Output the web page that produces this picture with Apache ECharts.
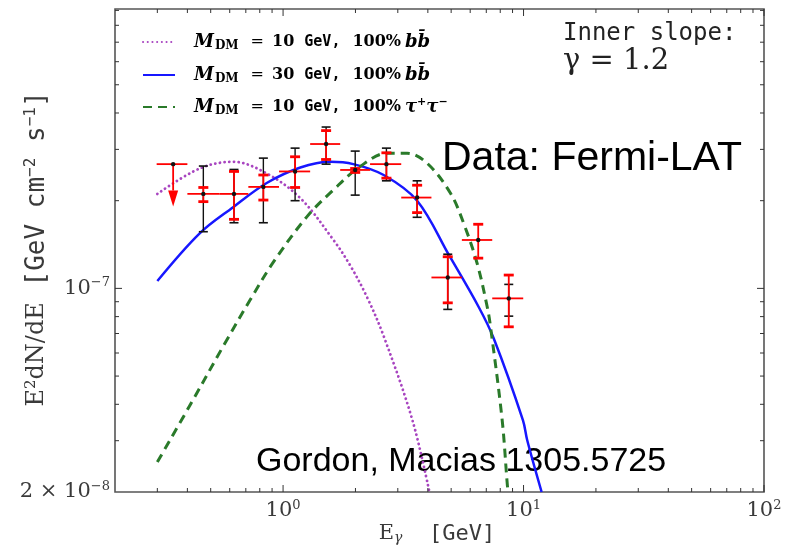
<!DOCTYPE html>
<html><head><meta charset="utf-8">
<script src="https://cdn.jsdelivr.net/npm/echarts@6/dist/echarts.min.js"></script>
<style>html,body{margin:0;padding:0;background:#fff}#c{width:790px;height:551px}</style>
</head><body><div id="c"></div>
<script>
// ---------- axis ranges ----------
const xMin = 0.2, xMax = 100;
const yMin = 2e-8, yMax = 9.1e-7;
const xMajorTicks = [1, 10, 100];
const xMinorTicks = [0.3,0.4,0.5,0.6,0.7,0.8,0.9, 2,3,4,5,6,7,8,9, 20,30,40,50,60,70,80,90];
const yMajorTicks = [1e-7];
const yMinorTicks = [3e-8,4e-8,5e-8,6e-8,7e-8,8e-8,9e-8, 2e-7,3e-7,4e-7,5e-7,6e-7,7e-7,8e-7,9e-7];
const xTickLabels = {1: '0', 10: '1', 100: '2'};          // 10^k
const yTickLabels = [[1e-7, '', '10', '−7'], [2e-8, '2 × ', '10', '−8']];

// ---------- model curves ----------
const seriesNames = ['m10bb', 'm30bb', 'm10tt'];
const m10bbE = [0.30, 0.45, 0.62, 0.855, 1.18, 1.62, 1.90, 2.23, 2.62, 3.45, 4.06];
const m10bbF = [2.11e-7, 2.58e-7, 2.72e-7, 2.48e-7, 2.04e-7, 1.466e-7, 1.20e-7, 0.936e-7, 0.686e-7, 0.353e-7, 2.0e-8];
const m30bbE = [0.30, 0.45, 0.62, 0.855, 1.18, 1.57, 1.96, 2.62, 3.61, 4.9, 6.5, 7.52, 9.94, 10.36, 11.89];
const m30bbF = [1.06e-7, 1.545e-7, 1.90e-7, 2.30e-7, 2.60e-7, 2.72e-7, 2.67e-7, 2.45e-7, 2.0e-7, 1.30e-7, 0.865e-7, 0.673e-7, 0.353e-7, 0.301e-7, 2.0e-8];
const m10ttE = [0.30, 0.41, 0.573, 0.729, 0.911, 1.255, 1.62, 2.09, 2.71, 3.28, 3.97, 4.97, 5.64, 6.41, 7.06, 7.29, 8.15, 8.57, 8.65];
const m10ttF = [0.2535e-7, 0.397e-7, 0.648e-7, 0.912e-7, 1.23e-7, 1.76e-7, 2.18e-7, 2.62e-7, 2.91e-7, 2.91e-7, 2.69e-7, 2.12e-7, 1.67e-7, 1.22e-7, 0.865e-7, 0.738e-7, 0.353e-7, 0.21e-7, 2.0e-8];

// ---------- Fermi-LAT data points ----------
const binE    = [0.349, 0.466, 0.625, 0.828, 1.122, 1.51, 1.995, 2.69, 3.61, 4.84, 6.48, 8.68];
const binLo   = [0.298, 0.40, 0.543, 0.717, 0.962, 1.296, 1.728, 2.30, 3.10, 4.14, 5.54, 7.41];
const binHi   = [0.40, 0.543, 0.717, 0.962, 1.296, 1.728, 2.30, 3.10, 4.14, 5.54, 7.41, 9.97];
const flux    = [2.67e-7, 2.11e-7, 2.11e-7, 2.23e-7, 2.52e-7, 3.13e-7, 2.55e-7, 2.67e-7, 2.05e-7, 1.09e-7, 1.466e-7, 0.924e-7];
const redLo   = [1.91e-7, 1.985e-7, 1.726e-7, 2.01e-7, 2.22e-7, 2.77e-7, 2.50e-7, 2.39e-7, 1.82e-7, 0.892e-7, 1.27e-7, 0.738e-7];
const redHi   = [2.67e-7, 2.22e-7, 2.52e-7, 2.45e-7, 2.83e-7, 3.48e-7, 2.58e-7, 2.92e-7, 2.26e-7, 1.284e-7, 1.66e-7, 1.111e-7];
const blackLo = [0, 1.565e-7, 1.68e-7, 1.68e-7, 2.0e-7, 2.67e-7, 2.09e-7, 2.34e-7, 1.754e-7, 0.847e-7, 0, 0.803e-7];
const blackHi = [0, 2.63e-7, 2.56e-7, 2.80e-7, 3.03e-7, 3.58e-7, 2.96e-7, 3.03e-7, 2.34e-7, 1.31e-7, 0, 1.032e-7];
const upperLimit = [1, 0, 0, 0, 0, 0, 0, 0, 0, 0, 0, 0];

// ---------- build ----------
const zip = (a, b) => a.map((v, i) => [v, b[i]]);
const pointData = binE.map((e, i) => [e, flux[i], binLo[i], binHi[i], redLo[i], redHi[i], blackLo[i], blackHi[i], upperLimit[i]]);
const xTickData = xMajorTicks.map(v => [v, yMin, 1]).concat(xMinorTicks.map(v => [v, yMin, 0]));
const yTickData = yMajorTicks.map(v => [xMin, v, 1]).concat(yMinorTicks.map(v => [xMin, v, 0]));

const serif = 'DejaVu Serif', mono = 'DejaVu Sans Mono';
const legendRich = {
  m:   {fontFamily: serif, fontStyle: 'italic', fontWeight: 'bold', fontSize: 18, color: '#000', lineHeight: 22},
  sub: {fontFamily: serif, fontWeight: 'bold', fontSize: 12, color: '#000', padding: [8, 0, 0, 1], lineHeight: 22},
  eq:  {fontFamily: serif, fontSize: 16, color: '#000', padding: [0, 8, 0, 12], lineHeight: 22},
  num: {fontFamily: serif, fontWeight: 'bold', fontSize: 16, color: '#000', padding: [0, 10, 0, 0], lineHeight: 22},
  mono:{fontFamily: mono, fontWeight: 'bold', fontSize: 15, color: '#000', padding: [0, 12, 0, 0], lineHeight: 22},
  pct: {fontFamily: serif, fontWeight: 'bold', fontSize: 16, color: '#000', padding: [0, 4, 0, 0], lineHeight: 22},
  it:  {fontFamily: serif, fontStyle: 'italic', fontWeight: 'bold', fontSize: 18, color: '#000', lineHeight: 22},
  sup: {fontFamily: serif, fontStyle: 'italic', fontWeight: 'bold', fontSize: 11, color: '#000', padding: [0, 0, 9, 0], lineHeight: 22}
};
const legendText = {
  m10bb: '{m|M}{sub|DM}{eq|=}{num|10}{mono|GeV,}{pct|100%}{it|bb\u0304}',
  m30bb: '{m|M}{sub|DM}{eq|=}{num|30}{mono|GeV,}{pct|100%}{it|bb\u0304}',
  m10tt: '{m|M}{sub|DM}{eq|=}{num|10}{mono|GeV,}{pct|100%}{it|τ}{sup|+}{it|τ}{sup|−}'
};
const legendTop = [27, 60, 92];

function tickRender(isX) {
  return function (params, api) {
    const v0 = api.value(0), v1 = api.value(1), major = api.value(2);
    const len = major ? 7 : 4;
    const style = {stroke: '#333', lineWidth: 1};
    if (isX) {
      const pb = api.coord([v0, yMin]), pt = api.coord([v0, yMax]);
      return {type: 'group', children: [
        {type: 'line', shape: {x1: pb[0], y1: pb[1], x2: pb[0], y2: pb[1] - len}, style},
        {type: 'line', shape: {x1: pt[0], y1: pt[1], x2: pt[0], y2: pt[1] + len}, style}
      ]};
    } else {
      const pl = api.coord([xMin, v1]), pr = api.coord([xMax, v1]);
      return {type: 'group', children: [
        {type: 'line', shape: {x1: pl[0], y1: pl[1], x2: pl[0] + len, y2: pl[1]}, style},
        {type: 'line', shape: {x1: pr[0], y1: pr[1], x2: pr[0] - len, y2: pr[1]}, style}
      ]};
    }
  };
}

function pointRender(params, api) {
  const e = api.value(0), f = api.value(1);
  const lo = api.value(2), hi = api.value(3);
  const rl = api.value(4), rh = api.value(5);
  const bl = api.value(6), bh = api.value(7);
  const ul = api.value(8);
  const c = api.coord([e, f]);
  const L = api.coord([lo, f]), H = api.coord([hi, f]);
  const red = '#ff0000', blk = '#111';
  const ch = [];
  if (bl > 0) {
    const a = api.coord([e, bl]), b = api.coord([e, bh]);
    ch.push({type: 'line', shape: {x1: c[0], y1: a[1], x2: c[0], y2: b[1]}, style: {stroke: blk, lineWidth: 1.4}});
    ch.push({type: 'line', shape: {x1: c[0] - 4.5, y1: a[1], x2: c[0] + 4.5, y2: a[1]}, style: {stroke: blk, lineWidth: 1.6}});
    ch.push({type: 'line', shape: {x1: c[0] - 4.5, y1: b[1], x2: c[0] + 4.5, y2: b[1]}, style: {stroke: blk, lineWidth: 1.6}});
  }
  ch.push({type: 'line', shape: {x1: L[0], y1: c[1], x2: H[0], y2: c[1]}, style: {stroke: red, lineWidth: 1.8}});
  const a = api.coord([e, rl]), b = api.coord([e, rh]);
  if (ul) {
    const headLen = 16;
    ch.push({type: 'line', shape: {x1: c[0], y1: b[1], x2: c[0], y2: a[1] - headLen}, style: {stroke: red, lineWidth: 1.8}});
    ch.push({type: 'polygon', shape: {points: [[c[0] - 5, a[1] - headLen], [c[0] + 5, a[1] - headLen], [c[0], a[1]]]}, style: {fill: red}});
  } else {
    ch.push({type: 'line', shape: {x1: c[0], y1: a[1], x2: c[0], y2: b[1]}, style: {stroke: red, lineWidth: 1.8}});
    ch.push({type: 'line', shape: {x1: c[0] - 5, y1: a[1], x2: c[0] + 5, y2: a[1]}, style: {stroke: red, lineWidth: 2.8}});
    ch.push({type: 'line', shape: {x1: c[0] - 5, y1: b[1], x2: c[0] + 5, y2: b[1]}, style: {stroke: red, lineWidth: 2.8}});
  }
  ch.push({type: 'circle', shape: {cx: c[0], cy: c[1], r: 2.2}, style: {fill: blk}});
  return {type: 'group', children: ch};
}

const chart = echarts.init(document.getElementById('c'), null, {renderer: 'canvas'});
const option = {
  animation: false,
  backgroundColor: '#fff',
  grid: {left: 115, right: 26, top: 9, bottom: 59, show: true, borderColor: '#555', borderWidth: 1.6, backgroundColor: 'transparent'},
  xAxis: {
    type: 'log', logBase: 10, min: xMin, max: xMax,
    axisLine: {show: false}, axisTick: {show: false}, splitLine: {show: false},
    axisLabel: {
      margin: 7, showMinLabel: false,
      formatter: function (v) {
        const k = xTickLabels[Math.round(v)];
        if (k === undefined || Math.abs(v - Math.round(v)) > 1e-6) return '';
        return '{b|10}{s|' + k + '}';
      },
      rich: {
        b: {fontFamily: serif, fontSize: 21, color: '#3a3a3a', lineHeight: 24},
        s: {fontFamily: serif, fontSize: 13, color: '#3a3a3a', padding: [0, 0, 11, 0], lineHeight: 24}
      }
    }
  },
  yAxis: {
    type: 'log', logBase: 10, min: yMin, max: yMax,
    axisLine: {show: false}, axisTick: {show: false}, splitLine: {show: false},
    axisLabel: {
      margin: 5, showMinLabel: true, showMaxLabel: false,
      formatter: function (v) {
        for (const t of yTickLabels) {
          if (Math.abs(v / t[0] - 1) < 1e-3) return '{b|' + t[1] + t[2] + '}{s|' + t[3] + '}';
        }
        return '';
      },
      rich: {
        b: {fontFamily: serif, fontSize: 21, color: '#3a3a3a', lineHeight: 24},
        s: {fontFamily: serif, fontSize: 13, color: '#3a3a3a', padding: [0, 0, 11, 0], lineHeight: 24}
      }
    }
  },
  legend: seriesNames.map((n, i) => ({
    data: [n], left: 137, top: legendTop[i], orient: 'vertical',
    itemWidth: 32, itemHeight: 14, itemGap: 0, selectedMode: false,
    itemStyle: {opacity: 0},
    formatter: nm => legendText[nm], textStyle: {rich: legendRich, padding: [0, 0, 0, 14]}
  })),
  series: [
    {name: 'm10bb', type: 'line', data: zip(m10bbE, m10bbF), showSymbol: false, symbol: 'none', smooth: 0.35, z: 2,
     lineStyle: {color: '#a845c0', width: 2.8, type: [0.1, 4.6], cap: 'round'}, itemStyle: {color: '#a845c0'}},
    {name: 'm30bb', type: 'line', data: zip(m30bbE, m30bbF), showSymbol: false, symbol: 'none', smooth: 0.35, z: 2,
     lineStyle: {color: '#1717ff', width: 2.5, type: 'solid'}, itemStyle: {color: '#1717ff'}},
    {name: 'm10tt', type: 'line', data: zip(m10ttE, m10ttF), showSymbol: false, symbol: 'none', smooth: 0.35, z: 2,
     lineStyle: {color: '#2a7a2a', width: 3, type: [9, 6]}, itemStyle: {color: '#2a7a2a'}},
    {name: 'xticks', type: 'custom', data: xTickData, renderItem: tickRender(true), z: 5, silent: true},
    {name: 'yticks', type: 'custom', data: yTickData, renderItem: tickRender(false), z: 5, silent: true},
    {name: 'points', type: 'custom', data: pointData, renderItem: pointRender, z: 6, silent: true,
     encode: {x: 0, y: 1}, dimensions: ['e', 'f', 'lo', 'hi', 'rl', 'rh', 'bl', 'bh', 'ul']}
  ],
  graphic: [
    {type: 'text', left: 563, top: 22, style: {text: 'Inner slope:', font: '24px "DejaVu Sans Mono"', fill: '#222'}},
    {type: 'text', left: 563, top: 47, style: {text: 'γ = 1.2', font: '29px "DejaVu Serif"', fill: '#222'}},
    {type: 'text', left: 442, top: 138, style: {text: 'Data: Fermi-LAT', font: '41px "Liberation Sans"', fill: '#000'}},
    {type: 'text', left: 256, top: 445, style: {text: 'Gordon, Macias 1305.5725', font: '34px "Liberation Sans"', fill: '#000'}},
    {type: 'text', x: 37, y: 249, rotation: Math.PI / 2,
     style: {text: '{a|E}{s|2}{a|dN/dE}{m| [GeV cm}{ms|−2}{m| s}{ms|−1}{m|]}', align: 'center', verticalAlign: 'middle',
       rich: {
         a: {fontFamily: serif, fontSize: 24, fill: '#3a3a3a', lineHeight: 28},
         s: {fontFamily: serif, fontSize: 15, fill: '#3a3a3a', padding: [0, 0, 12, 0], lineHeight: 28},
         m: {fontFamily: mono, fontSize: 26, fill: '#3a3a3a', lineHeight: 28},
         ms: {fontFamily: mono, fontSize: 16, fill: '#3a3a3a', padding: [0, 0, 12, 0], lineHeight: 28}
       }}},
    {type: 'text', x: 437, y: 534,
     style: {text: '{a|E}{g|γ}{m|  [GeV]}', align: 'center', verticalAlign: 'middle',
       rich: {
         a: {fontFamily: serif, fontSize: 21, fill: '#3a3a3a', lineHeight: 26},
         g: {fontFamily: serif, fontStyle: 'italic', fontSize: 14, fill: '#3a3a3a', padding: [9, 0, 0, 0], lineHeight: 26},
         m: {fontFamily: mono, fontSize: 22, fill: '#3a3a3a', lineHeight: 26}
       }}}
  ]
};
chart.setOption(option);
</script>
</body></html>
